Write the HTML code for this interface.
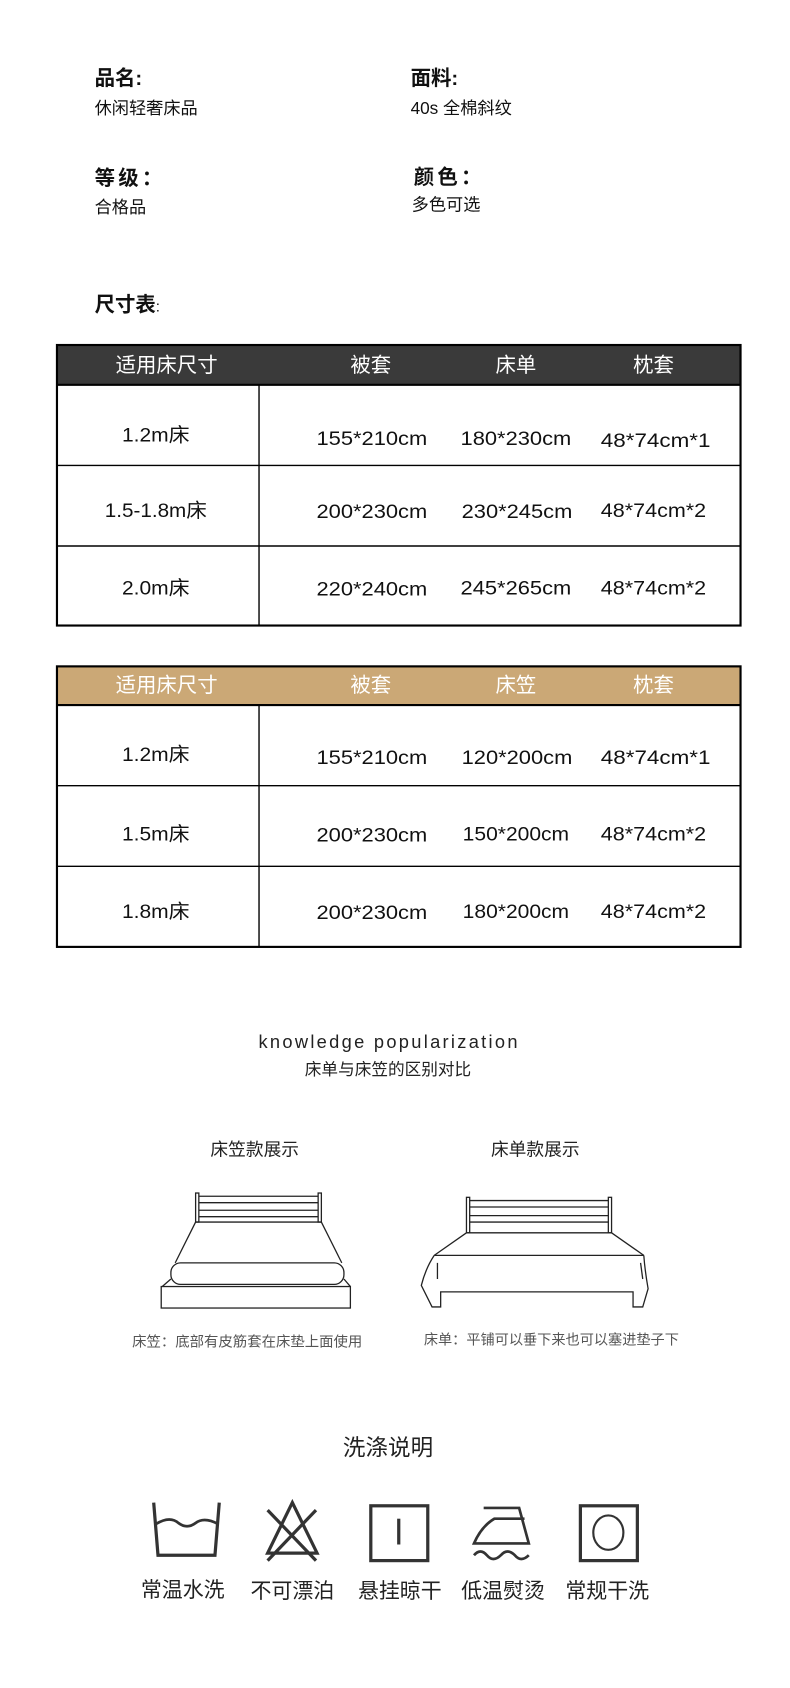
<!DOCTYPE html>
<html><head><meta charset="utf-8"><style>
html,body{margin:0;padding:0;background:#fff;width:790px;height:1688px;overflow:hidden}
svg{display:block}
text{font-family:"Liberation Sans","Noto Sans CJK SC",sans-serif}
</style></head><body>
<svg width="790" height="1688" viewBox="0 0 790 1688" xmlns="http://www.w3.org/2000/svg">
<g transform="scale(1.0748)">
<rect width="735" height="1571" fill="#fff"/>
<!-- info -->
<g fill="#111">
<text x="88" y="79" font-size="19" font-weight="bold">品名:</text>
<text x="88" y="106" font-size="16">休闲轻奢床品</text>
<text x="382" y="79" font-size="19" font-weight="bold">面料:</text>
<text x="382" y="106" font-size="16">40s 全棉斜纹</text>
<text x="88" y="172" font-size="19" font-weight="bold" letter-spacing="3">等级：</text>
<text x="88" y="198" font-size="16">合格品</text>
<text x="385" y="171" font-size="19" font-weight="bold" letter-spacing="3">颜色：</text>
<text x="383" y="196" font-size="16">多色可选</text>
<text x="88" y="290" font-size="19" font-weight="bold">尺寸表<tspan font-size="14" font-weight="normal">:</tspan></text>
</g>
<!-- table 1 -->
<rect x="53" y="321" width="636" height="37" fill="#3a3a3a"/>
<g fill="none" stroke="#000">
<rect x="53" y="321" width="636" height="261" stroke-width="2"/>
<line x1="53" y1="358" x2="689" y2="358" stroke-width="2"/>
<line x1="53" y1="433" x2="689" y2="433" stroke-width="1.3"/>
<line x1="53" y1="508" x2="689" y2="508" stroke-width="1.3"/>
<line x1="241" y1="358" x2="241" y2="582" stroke-width="1.3"/>
</g>
<g fill="#fff" font-size="19" text-anchor="middle">
<text x="155" y="346">适用床尺寸</text><text x="345" y="346">被套</text><text x="480" y="346">床单</text><text x="608" y="346">枕套</text>
</g>
<g fill="#111" font-size="18" text-anchor="middle">
<text x="145" y="411" textLength="63" lengthAdjust="spacingAndGlyphs">1.2m床</text>
<text x="346" y="414" textLength="103" lengthAdjust="spacingAndGlyphs">155*210cm</text>
<text x="480" y="414" textLength="103" lengthAdjust="spacingAndGlyphs">180*230cm</text>
<text x="610" y="416" textLength="102" lengthAdjust="spacingAndGlyphs">48*74cm*1</text>
<text x="145" y="481" textLength="95" lengthAdjust="spacingAndGlyphs">1.5-1.8m床</text>
<text x="346" y="482" textLength="103" lengthAdjust="spacingAndGlyphs">200*230cm</text>
<text x="481" y="482" textLength="103" lengthAdjust="spacingAndGlyphs">230*245cm</text>
<text x="608" y="481" textLength="98" lengthAdjust="spacingAndGlyphs">48*74cm*2</text>
<text x="145" y="553" textLength="63" lengthAdjust="spacingAndGlyphs">2.0m床</text>
<text x="346" y="554" textLength="103" lengthAdjust="spacingAndGlyphs">220*240cm</text>
<text x="480" y="553" textLength="103" lengthAdjust="spacingAndGlyphs">245*265cm</text>
<text x="608" y="553" textLength="98" lengthAdjust="spacingAndGlyphs">48*74cm*2</text>
</g>
<!-- table 2 -->
<rect x="53" y="620" width="636" height="36" fill="#cba876"/>
<g fill="none" stroke="#000">
<rect x="53" y="620" width="636" height="261" stroke-width="2"/>
<line x1="53" y1="656" x2="689" y2="656" stroke-width="2"/>
<line x1="53" y1="731" x2="689" y2="731" stroke-width="1.3"/>
<line x1="53" y1="806" x2="689" y2="806" stroke-width="1.3"/>
<line x1="241" y1="656" x2="241" y2="881" stroke-width="1.3"/>
</g>
<g fill="#fff" font-size="19" text-anchor="middle">
<text x="155" y="644">适用床尺寸</text><text x="345" y="644">被套</text><text x="480" y="644">床笠</text><text x="608" y="644">枕套</text>
</g>
<g fill="#111" font-size="18" text-anchor="middle">
<text x="145" y="708" textLength="63" lengthAdjust="spacingAndGlyphs">1.2m床</text>
<text x="346" y="711" textLength="103" lengthAdjust="spacingAndGlyphs">155*210cm</text>
<text x="481" y="711" textLength="103" lengthAdjust="spacingAndGlyphs">120*200cm</text>
<text x="610" y="711" textLength="102" lengthAdjust="spacingAndGlyphs">48*74cm*1</text>
<text x="145" y="782" textLength="63" lengthAdjust="spacingAndGlyphs">1.5m床</text>
<text x="346" y="783" textLength="103" lengthAdjust="spacingAndGlyphs">200*230cm</text>
<text x="480" y="782" textLength="99" lengthAdjust="spacingAndGlyphs">150*200cm</text>
<text x="608" y="782" textLength="98" lengthAdjust="spacingAndGlyphs">48*74cm*2</text>
<text x="145" y="854" textLength="63" lengthAdjust="spacingAndGlyphs">1.8m床</text>
<text x="346" y="855" textLength="103" lengthAdjust="spacingAndGlyphs">200*230cm</text>
<text x="480" y="854" textLength="99" lengthAdjust="spacingAndGlyphs">180*200cm</text>
<text x="608" y="854" textLength="98" lengthAdjust="spacingAndGlyphs">48*74cm*2</text>
</g>
<!-- knowledge -->
<text x="361" y="975" font-size="17" fill="#222" text-anchor="middle" textLength="241" lengthAdjust="spacing">knowledge popularization</text>
<text x="361" y="1000" font-size="15.5" fill="#222" text-anchor="middle">床单与床笠的区别对比</text>
<text x="237" y="1075" font-size="16.5" fill="#222" text-anchor="middle">床笠款展示</text>
<text x="498" y="1075" font-size="16.5" fill="#222" text-anchor="middle">床单款展示</text>
<!-- left bed -->
<g fill="none" stroke="#222" stroke-width="1.2">
<rect x="182" y="1110" width="3" height="27"/><rect x="296" y="1110" width="3" height="27"/>
<line x1="185" y1="1113" x2="296" y2="1113"/><line x1="185" y1="1119" x2="296" y2="1119"/>
<line x1="185" y1="1126" x2="296" y2="1126"/><line x1="185" y1="1132" x2="296" y2="1132"/>
<line x1="182" y1="1137" x2="299" y2="1137"/>
<line x1="182" y1="1137" x2="163" y2="1175"/><line x1="299" y1="1137" x2="318" y2="1175"/>
<rect x="159" y="1175" width="161" height="20" rx="9"/>
<line x1="159" y1="1190" x2="151" y2="1197"/><line x1="320" y1="1190" x2="326" y2="1197"/>
<rect x="150" y="1197" width="176" height="20"/>
</g>
<!-- right bed -->
<g fill="none" stroke="#222" stroke-width="1.2">
<rect x="434" y="1114" width="3" height="33"/><rect x="566" y="1114" width="3" height="33"/>
<line x1="437" y1="1117" x2="566" y2="1117"/><line x1="437" y1="1123" x2="566" y2="1123"/>
<line x1="437" y1="1131" x2="566" y2="1131"/><line x1="437" y1="1137" x2="566" y2="1137"/>
<line x1="434" y1="1147" x2="569" y2="1147"/>
<line x1="434" y1="1147" x2="404" y2="1168"/><line x1="569" y1="1147" x2="599" y2="1168"/>
<line x1="404" y1="1168" x2="599" y2="1168"/>
<path d="M404 1168 Q396 1180 392 1196 L402 1216 L410 1216 L410 1202 L589 1202 L589 1216 L598 1216 L603 1199 Q600 1182 599 1168"/>
<line x1="407" y1="1175" x2="407" y2="1190"/><line x1="596" y1="1175" x2="598" y2="1190"/>
</g>
<text x="230" y="1253" font-size="13.4" fill="#555" text-anchor="middle">床笠：底部有皮筋套在床垫上面使用</text>
<text x="513" y="1251" font-size="13.2" fill="#555" text-anchor="middle">床单：平铺可以垂下来也可以塞进垫子下</text>
<!-- washing -->
<text x="361" y="1354" font-size="21" fill="#222" text-anchor="middle">洗涤说明</text>
<g fill="none" stroke="#333" stroke-width="3">
<path d="M143 1398 L147 1447 L200 1447 L204 1398"/>
<path d="M145 1418 Q158 1410 166 1417 Q174 1423 182 1417 Q190 1411 203 1418" stroke-width="2.5"/>
<path d="M272 1398 L249 1445 L295 1445 Z"/>
<line x1="249" y1="1405" x2="294" y2="1452"/><line x1="294" y1="1405" x2="249" y2="1452"/>
<rect x="345" y="1401" width="53" height="51"/>
<line x1="371" y1="1413" x2="371" y2="1437"/>
<path d="M450 1403 L483 1403 L492 1436 L441 1436 Q448 1420 460 1413 L488 1413" stroke-width="2.5"/>
<path d="M441 1447 Q447 1440 453 1447 Q459 1454 466 1447 Q472 1440 479 1447 Q485 1454 492 1447" stroke-width="2.5"/>
<rect x="540" y="1401" width="53" height="51"/>
<ellipse cx="566" cy="1426" rx="14" ry="16" stroke-width="2"/>
</g>
<g font-size="19.5" fill="#222" text-anchor="middle">
<text x="170" y="1486">常温水洗</text><text x="272" y="1487">不可漂泊</text>
<text x="372" y="1487">悬挂晾干</text><text x="468" y="1487">低温熨烫</text><text x="565" y="1487">常规干洗</text>
</g>
</g>
</svg>
</body></html>
